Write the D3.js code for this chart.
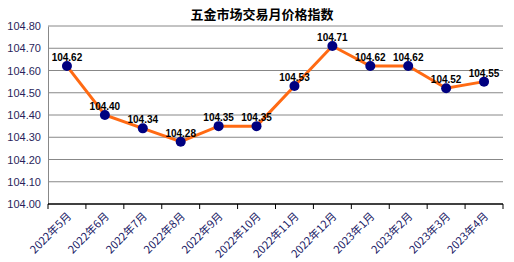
<!DOCTYPE html>
<html>
<head>
<meta charset="utf-8">
<script src="https://cdn.jsdelivr.net/npm/d3@7"></script>
<style>
  body { margin: 0; background: #fff; }
  svg { display: block; font-family: "Liberation Sans", Arial, sans-serif; }
</style>
</head>
<body>
<div id="chart"></div>
<script>
var title = "五金市场交易月价格指数";
var months = ["2022年5月", "2022年6月", "2022年7月", "2022年8月", "2022年9月", "2022年10月",
  "2022年11月", "2022年12月", "2023年1月", "2023年2月", "2023年3月", "2023年4月"];
var values = [104.62, 104.40, 104.34, 104.28, 104.35, 104.35, 104.53, 104.71, 104.62, 104.62, 104.52, 104.55];
var yTicks = [104.00, 104.10, 104.20, 104.30, 104.40, 104.50, 104.60, 104.70, 104.80];

var width = 514, height = 262;
var margin = {top: 26, right: 11, bottom: 58, left: 48};

var svg = d3.select("#chart").append("svg")
    .attr("width", width)
    .attr("height", height);

var x = d3.scaleBand()
    .domain(months)
    .range([margin.left, width - margin.right]);

var y = d3.scaleLinear()
    .domain([104.0, 104.8])
    .range([height - margin.bottom, margin.top]);

// title
svg.append("text")
    .attr("x", 262)
    .attr("y", 19)
    .attr("text-anchor", "middle")
    .attr("font-family", "'Noto Sans CJK SC', sans-serif")
    .attr("font-weight", "bold")
    .attr("font-size", 13)
    .text(title);

// horizontal gridlines
svg.append("g")
    .selectAll("line")
    .data(yTicks.slice(1))
    .enter().append("line")
    .attr("x1", margin.left)
    .attr("x2", width - margin.right)
    .attr("y1", d => y(d))
    .attr("y2", d => y(d))
    .attr("stroke", "#888")
    .attr("stroke-width", 1);

// y axis
var yAxis = svg.append("g")
    .attr("transform", "translate(" + margin.left + ",0)")
    .call(d3.axisLeft(y).tickValues(yTicks).tickFormat(d3.format(".2f")).tickSize(0).tickPadding(7));
yAxis.select(".domain").attr("stroke", "#888").attr("stroke-width", 1);
yAxis.selectAll("text")
    .attr("font-size", 11)
    .attr("font-family", "'Liberation Sans', Arial, sans-serif")
    .attr("fill", "#2a1f5c");

// x axis with ticks at category boundaries
var xAxis = svg.append("g")
    .attr("transform", "translate(0," + (height - margin.bottom) + ")");
xAxis.append("line")
    .attr("x1", margin.left)
    .attr("x2", width - margin.right)
    .attr("stroke", "#000")
    .attr("stroke-width", 1.5);
xAxis.selectAll(".tk")
    .data(months.concat(["end"]))
    .enter().append("line")
    .attr("class", "tk")
    .attr("x1", (d, i) => margin.left + i * x.step())
    .attr("x2", (d, i) => margin.left + i * x.step())
    .attr("y1", 0)
    .attr("y2", 5)
    .attr("stroke", "#000");
xAxis.selectAll(".lbl")
    .data(months)
    .enter().append("text")
    .attr("class", "lbl")
    .attr("text-anchor", "end")
    .attr("font-size", 11)
    .attr("font-family", "'Noto Sans CJK SC', sans-serif")
    .attr("fill", "#1a1a66")
    .attr("transform", d => "translate(" + (x(d) + x.bandwidth() / 2 + 5) + ",13) rotate(-45)")
    .text(d => d);

// line
var line = d3.line()
    .x((d, i) => x(months[i]) + x.bandwidth() / 2)
    .y(d => y(d));

svg.append("path")
    .datum(values)
    .attr("d", line)
    .attr("fill", "none")
    .attr("stroke", "#ff6a13")
    .attr("stroke-width", 3);

// markers
svg.append("g")
    .selectAll("circle")
    .data(values)
    .enter().append("circle")
    .attr("cx", (d, i) => x(months[i]) + x.bandwidth() / 2)
    .attr("cy", d => y(d))
    .attr("r", 5)
    .attr("fill", "#000080");

// data labels
svg.append("g")
    .selectAll("text")
    .data(values)
    .enter().append("text")
    .attr("x", (d, i) => Math.min(x(months[i]) + x.bandwidth() / 2, width - 20))
    .attr("y", d => y(d) - 5)
    .attr("text-anchor", "middle")
    .attr("font-size", 10)
    .attr("font-weight", "bold")
    .attr("fill", "#000")
    .text(d => d.toFixed(2));
</script>
</body>
</html>
